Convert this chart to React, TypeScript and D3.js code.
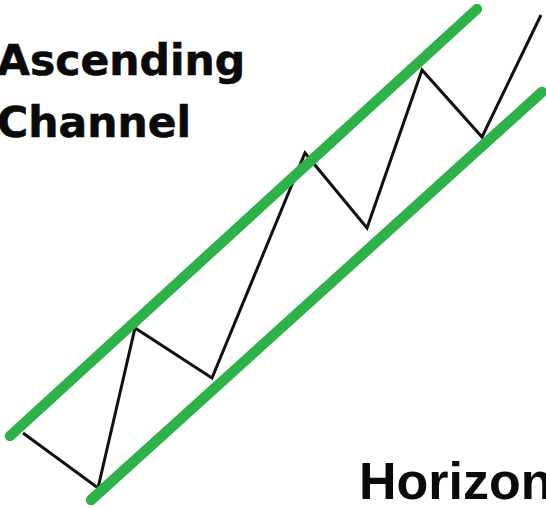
import React from "react";
import * as d3 from "d3";

// zigzag price path (time, price)
const pathTimes = [2.3, 9.8, 13.5, 21.2, 30.5, 36.7, 42.2, 48.2, 54.1];
const pathPrices = [7.5, 2.0, 18.0, 13.0, 35.5, 28.0, 43.8, 37.1, 49.3];

// channel lines: [start, end]
const upperTimes = [1.0, 47.7];
const upperPrices = [7.2, 49.9];
const lowerTimes = [9.1, 54.2];
const lowerPrices = [0.8, 41.6];

const titleLines = ["Ascending", "Channel"];
const nextTitle = "Horizontal";

const W = 546;
const H = 508;

export default function App() {
  const x = d3.scaleLinear().domain([0, 54.6]).range([0, W]);
  const y = d3.scaleLinear().domain([0, 50.8]).range([H, 0]);

  const line = d3
    .line<[number, number]>()
    .x((d) => x(d[0]))
    .y((d) => y(d[1]));

  const zigzag = pathTimes.map((t, i) => [t, pathPrices[i]] as [number, number]);
  const upper = upperTimes.map((t, i) => [t, upperPrices[i]] as [number, number]);
  const lower = lowerTimes.map((t, i) => [t, lowerPrices[i]] as [number, number]);

  return (
    <svg
      width={W}
      height={H}
      style={{ position: "absolute", left: 0, top: 0, background: "#fff" }}
    >
      <rect width={W} height={H} fill="#fff" />
      <g
        fontFamily="'DejaVu Sans', Verdana, sans-serif"
        fontWeight="bold"
        fontSize={42.5}
        fill="#0a0a0a"
        stroke="#0a0a0a"
        strokeWidth={0.6}
      >
        {titleLines.map((t, i) => (
          <text key={t} x={-3} y={75 + i * 62}>
            {t}
          </text>
        ))}
      </g>
      <text
        x={359}
        y={499}
        fontFamily="'Liberation Sans', Arial, sans-serif"
        fontWeight="bold"
        fontSize={52}
        fill="#0a0a0a"
      >
        {nextTitle}
      </text>
      <path d={line(zigzag) ?? ""} fill="none" stroke="#111" strokeWidth={3} strokeLinejoin="miter" />
      {[upper, lower].map((d, i) => (
        <path
          key={i}
          d={line(d) ?? ""}
          fill="none"
          stroke="#2db24a"
          strokeWidth={10.5}
          strokeLinecap="round"
        />
      ))}
    </svg>
  );
}
